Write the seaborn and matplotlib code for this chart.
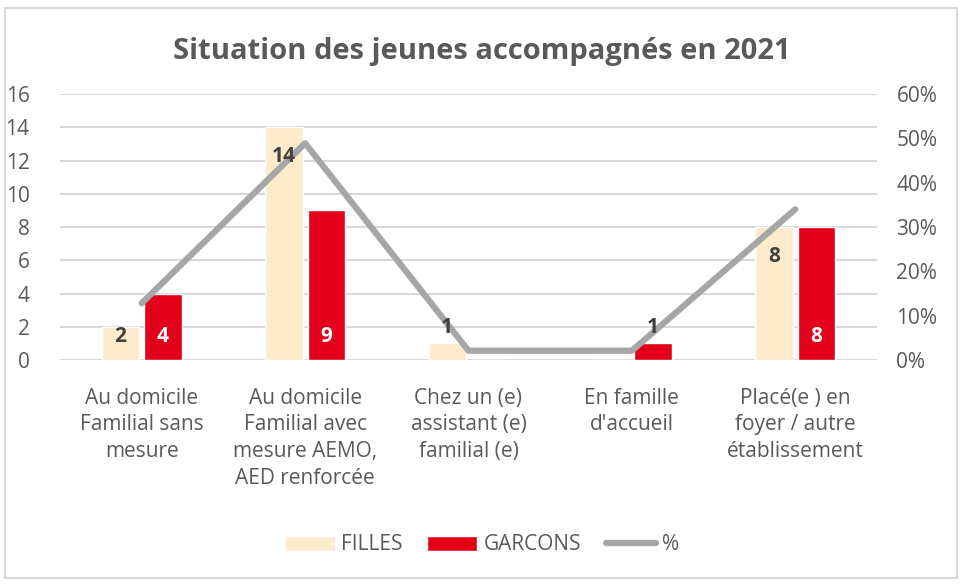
import matplotlib
matplotlib.use("Agg")
import matplotlib.pyplot as plt
import matplotlib.patches as mpatches
from matplotlib.lines import Line2D
from matplotlib.ticker import PercentFormatter
import numpy as np
import pandas as pd
import seaborn as sns

# Données
categories = [
    "Au domicile\nFamilial sans\nmesure",
    "Au domicile\nFamilial avec\nmesure AEMO,\nAED renforcée",
    "Chez un (e)\nassistant (e)\nfamilial (e)",
    "En famille\nd'accueil",
    "Placé(e ) en\nfoyer / autre\nétablissement",
]
filles = [2, 14, 1, 0, 8]
garcons = [4, 9, 0, 1, 8]
pourcent = [0.128, 0.489, 0.021, 0.021, 0.340]

c_filles = "#FDEBCB"
c_garcons = "#E2001A"
c_ligne = "#A6A6A6"
c_texte = "#595959"

sns.set_theme(style="white")
plt.rcParams["font.family"] = ["Open Sans", "DejaVu Sans"]

df = pd.DataFrame({
    "cat": categories * 2,
    "val": filles + garcons,
    "serie": ["FILLES"] * 5 + ["GARCONS"] * 5,
})

fig = plt.figure(figsize=(9.64, 5.84), dpi=100)
ax = fig.add_axes([60 / 964, 1 - 360 / 584, 817 / 964, 266 / 584])

sns.barplot(data=df, x="cat", y="val", hue="serie", order=categories,
            palette={"FILLES": c_filles, "GARCONS": c_garcons},
            width=0.52, gap=0.12, saturation=1, ax=ax, legend=False,
            errorbar=None)

ax.set_ylim(0, 16)
ax.set_yticks(range(0, 17, 2))
ax.set_xlim(-0.5, 4.5)
ax.grid(axis="y", color="#D9D9D9", linewidth=1.5)
ax.set_axisbelow(True)
for s in ax.spines.values():
    s.set_visible(False)
ax.set_xlabel("")
ax.set_ylabel("")
ax.tick_params(axis="y", labelsize=15, colors=c_texte, length=0, pad=22)
ax.tick_params(axis="x", labelsize=15, colors=c_texte, length=0, pad=20)
for lab in ax.get_xticklabels():
    lab.set_linespacing(1.35)
    lab.set_verticalalignment("top")

# Axe secondaire : pourcentage
n = len(categories)
ax2 = ax.twinx()
sns.lineplot(x=np.arange(n), y=pourcent, color=c_ligne, linewidth=4.5,
             ax=ax2, solid_capstyle="round", zorder=4)
ax2.set_ylim(0, 0.6)
ax2.set_yticks(np.arange(0, 0.61, 0.1))
ax2.yaxis.set_major_formatter(PercentFormatter(1.0, decimals=0))
ax2.tick_params(axis="y", labelsize=15, colors=c_texte, length=0, pad=14)
for s in ax2.spines.values():
    s.set_visible(False)
ax2.set_xlim(-0.5, 4.5)

# Etiquettes de données
for patch_idx, p in enumerate(ax.patches[:2 * n]):
    v = p.get_height()
    if v == 0:
        continue
    xc = p.get_x() + p.get_width() / 2
    is_filles = patch_idx < n
    if is_filles:
        if v >= 2:
            y, col = max(v - 1.75, 1.44), "#404040"
        else:
            y, col = v + 0.93, "#404040"
    else:
        if v >= 2:
            y, col = 1.44, "white"
        else:
            y, col = v + 0.93, "#404040"
    ax2.text(xc, y, f"{int(v)}", ha="center", va="center", fontsize=15,
             fontweight="bold", color=col, zorder=6, transform=ax.transData)

fig.text(0.5, 1 - 52 / 584, "Situation des jeunes accompagnés en 2021",
         ha="center", va="center", fontsize=21, fontweight="bold",
         color=c_texte)

handles = [
    mpatches.Patch(facecolor=c_filles, label="FILLES"),
    mpatches.Patch(facecolor=c_garcons, label="GARCONS"),
    Line2D([0], [0], color=c_ligne, linewidth=4.5, label="%"),
]
leg = fig.legend(handles=handles, loc="center", bbox_to_anchor=(0.5, 1 - 545 / 584),
                 ncol=3, frameon=False, fontsize=15, handlelength=2.4,
                 handleheight=0.7, columnspacing=1.2, handletextpad=0.3)
for t in leg.get_texts():
    t.set_color(c_texte)

fig.patches.append(mpatches.Rectangle((5 / 964, 6 / 584), 952 / 964, 570 / 584,
                                      transform=fig.transFigure, fill=False,
                                      edgecolor="#D9D9D9", linewidth=1.5))

fig.savefig("out.png", dpi=100)
